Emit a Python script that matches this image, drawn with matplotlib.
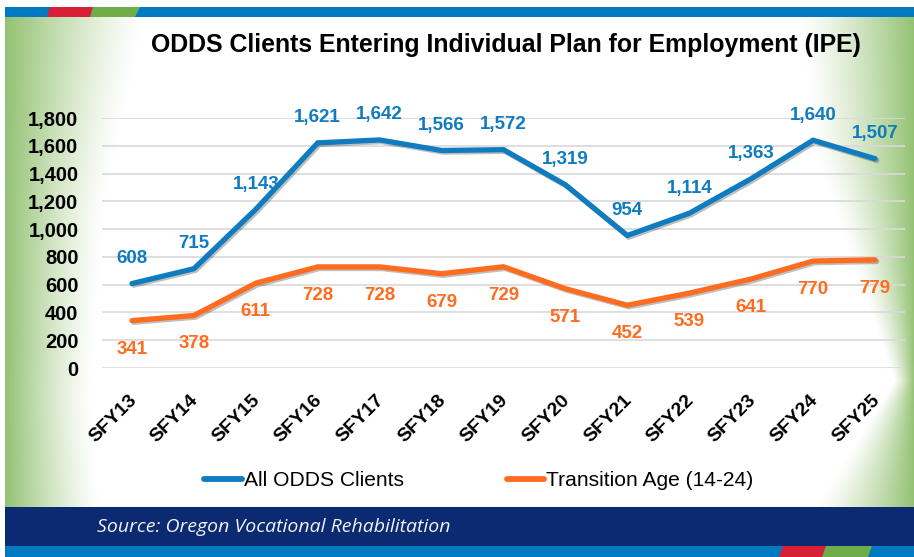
import numpy as np
import matplotlib
matplotlib.use("Agg")
import matplotlib.pyplot as plt
from matplotlib import font_manager
from matplotlib.patches import Rectangle, Polygon
from matplotlib.transforms import ScaledTranslation, blended_transform_factory
import matplotlib.patheffects as pe
from matplotlib.lines import Line2D

# ---------------- data ----------------
years = ["SFY13", "SFY14", "SFY15", "SFY16", "SFY17", "SFY18", "SFY19",
         "SFY20", "SFY21", "SFY22", "SFY23", "SFY24", "SFY25"]
all_odds = [608, 715, 1143, 1621, 1642, 1566, 1572, 1319, 954, 1114, 1363, 1640, 1507]
transition = [341, 378, 611, 728, 728, 679, 729, 571, 452, 539, 641, 770, 779]
y_ticks = [0, 200, 400, 600, 800, 1000, 1200, 1400, 1600, 1800]
series_names = ["All ODDS Clients", "Transition Age (14-24)"]
title = "ODDS Clients Entering Individual Plan for Employment (IPE)"
source = "Source: Oregon Vocational Rehabilitation"

# ---------------- style ----------------
names = {f.name for f in font_manager.fontManager.ttflist}
NARROW = "Liberation Sans Narrow" if "Liberation Sans Narrow" in names else "Liberation Sans"
FAM = [NARROW, "DejaVu Sans"]
BLUE = "#0f7cc0"
ORANGE = "#ff6b1f"
NAVY = "#0b2a72"
BARBLUE = "#0079c1"
RED = "#d91f36"
GREEN = "#6fad4a"
W, H = 914, 557

fig = plt.figure(figsize=(W / 100, H / 100), dpi=100)

# ---------------- background ----------------
bg = fig.add_axes([0, 0, 1, 1], zorder=0)
yy, xx = np.mgrid[0:H, 0:W].astype(float)
wl = np.interp(yy, [17, 200, 400, 507], [140, 100, 85, 95])
wr = np.interp(yy, [17, 150, 380, 507], [115, 100, 20, 100])
gl = np.clip((5 + wl - xx) / wl, 0, 1)
gr = np.clip((xx - (W - wr)) / wr, 0, 1)
a = np.maximum(gl, gr) ** 1.25
green = np.array([0.58, 0.76, 0.45])
img = np.ones((H, W, 3)) * (1 - a[..., None]) + green * a[..., None]
img[:, :5, :] = 1.0
bg.imshow(img, extent=(0, W, H, 0), aspect="auto", interpolation="bilinear")
bg.set_xlim(0, W)
bg.set_ylim(H, 0)
bg.axis("off")

# top bar
bg.add_patch(Rectangle((0, 0), W, 7, color="white", lw=0))
bg.add_patch(Rectangle((5, 7), W - 5, 10, color=BARBLUE, lw=0))
bg.add_patch(Polygon([(47, 17), (50, 7), (93, 7), (90, 17)], closed=True, color=RED, lw=0))
bg.add_patch(Polygon([(90, 17), (93, 7), (140, 7), (135, 17)], closed=True, color=GREEN, lw=0))
# bottom band
bg.add_patch(Rectangle((5, 507), W - 5, 39, color=NAVY, lw=0))
bg.add_patch(Rectangle((5, 546), W - 5, 11, color=BARBLUE, lw=0))
bg.add_patch(Polygon([(779, 557), (783, 546), (826, 546), (822, 557)], closed=True, color=RED, lw=0))
bg.add_patch(Polygon([(822, 557), (826, 546), (872, 546), (868, 557)], closed=True, color=GREEN, lw=0))

# source text
src = bg.text(97, 532, source, color="#f2f2f2", fontsize=14, style="italic",
              family=["Open Sans", "DejaVu Sans"], ha="left", va="baseline")

# title (fit to reference width of ~712 px)
tt = fig.text(506 / W, 1 - 52 / H, title, fontsize=20, fontweight="bold",
              family=FAM, ha="center", va="baseline", color="black")
fig.canvas.draw()
w0 = tt.get_window_extent(fig.canvas.get_renderer()).width
tt.set_fontsize(20 * 712 / w0)

# ---------------- chart ----------------
ax = fig.add_axes([102 / W, 1 - 368 / H, 803 / W, 250 / H], zorder=1)
ax.patch.set_alpha(0)
x = np.arange(len(years))
ax.set_xlim(-0.4845, len(years) - 1 + 0.4845)
ax.set_ylim(0, 1800)
for s in ax.spines.values():
    s.set_visible(False)
ax.set_yticks(y_ticks)
ax.set_yticklabels([f"{v:,}" for v in y_ticks], fontsize=14.5, fontweight="bold", family=FAM)
ax.tick_params(axis="y", length=0, pad=17)
ax.set_xticks(x)
ax.set_xticklabels([])
ax.tick_params(axis="x", length=0)
ax.grid(axis="y", color="#d9d9d9", lw=1.2)
ax.set_axisbelow(True)

shadow = [pe.SimpleLineShadow(offset=(1.2, -1.2), alpha=0.25, shadow_color="black"), pe.Normal()]
ax.plot(x, all_odds, color=BLUE, lw=3.8, solid_capstyle="round", solid_joinstyle="miter",
        path_effects=shadow, zorder=4, clip_on=False)
ax.plot(x, transition, color=ORANGE, lw=3.8, solid_capstyle="round", solid_joinstyle="miter",
        path_effects=shadow, zorder=4, clip_on=False)

for xi, v in zip(x, all_odds):
    ax.annotate(f"{v:,}", (xi, v), xytext=(0, 18), textcoords="offset points",
                ha="center", va="center", fontsize=13.5, fontweight="bold",
                family=FAM, color=BLUE, zorder=3, annotation_clip=False)
for xi, v in zip(x, transition):
    ax.annotate(f"{v:,}", (xi, v), xytext=(0, -20.5), textcoords="offset points",
                ha="center", va="center", fontsize=13.5, fontweight="bold",
                family=FAM, color=ORANGE, zorder=3, annotation_clip=False)

# x labels, rotated
tr = blended_transform_factory(ax.transData, ax.transAxes) + ScaledTranslation(2 / 100, -30 / 100, fig.dpi_scale_trans)
for xi, lab in zip(x, years):
    ax.text(xi, 0, lab, transform=tr, rotation=45, rotation_mode="anchor",
            ha="right", va="center", fontsize=14, fontweight="bold",
            family=FAM, color="black")

handles = [Line2D([0], [0], color=BLUE, lw=4.2, solid_capstyle="round"),
           Line2D([0], [0], color=ORANGE, lw=4.2, solid_capstyle="round")]
fig.legend(handles, series_names, loc="center left", bbox_to_anchor=(204 / W, 1 - 481 / H),
           ncol=2, frameon=False, borderpad=0, borderaxespad=0, handlelength=1.8,
           handletextpad=0.1, columnspacing=4.9,
           prop={"family": FAM, "size": 15.1})

fig.savefig("out.png", dpi=100)
